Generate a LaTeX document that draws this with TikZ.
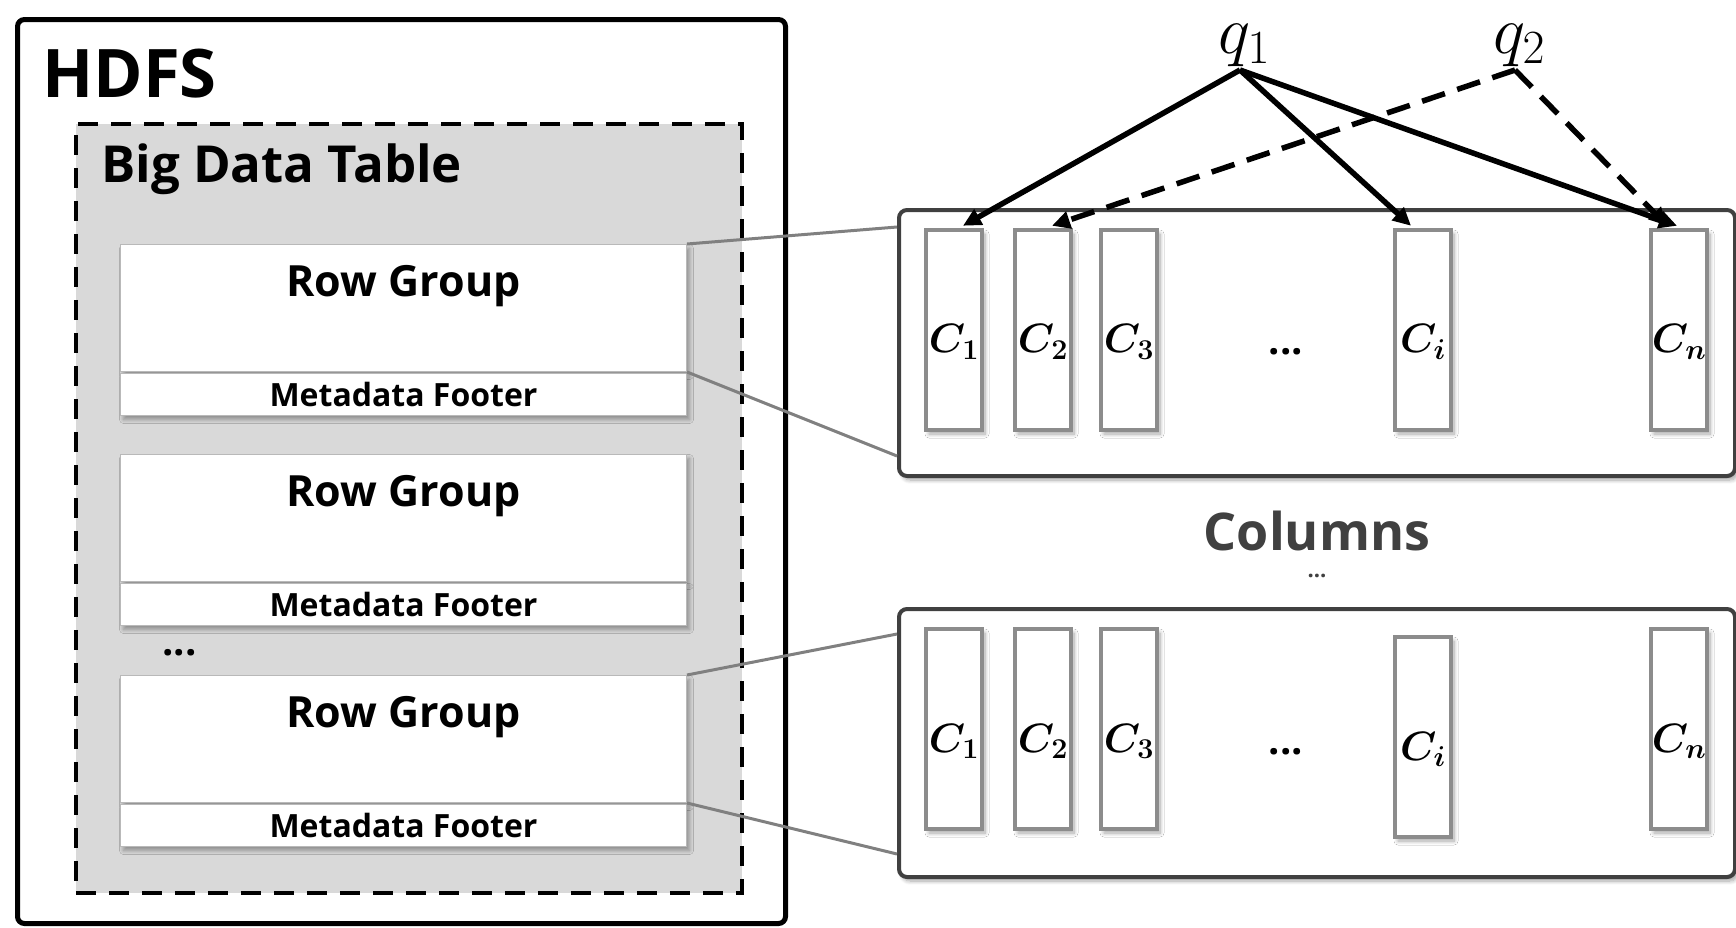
\RequirePackage{fix-cm}
\documentclass[tikz,border=0pt]{standalone}
\usepackage{fontspec}
\setmainfont{Open Sans}
\usetikzlibrary{arrows.meta,shadows.blur,calc}
\definecolor{tablegray}{RGB}{217,217,217}
\definecolor{colgray}{RGB}{140,140,140}
\definecolor{paneledge}{RGB}{64,64,64}
\definecolor{linkgray}{RGB}{128,128,128}
\begin{document}
\begin{tikzpicture}[x=1pt,y=-1pt,
  softshadow/.style={blur shadow={shadow xshift=3pt,shadow yshift=-4pt,shadow blur radius=4pt,shadow blur steps=8,shadow opacity=35}},
  hdfsbox/.style={draw=black,line width=5pt,rounded corners=7pt},
  tablebox/.style={draw=black,fill=tablegray,line width=3.5pt,dash pattern=on 20pt off 13pt},
  rowbox/.style={draw=gray!55,line width=1pt,fill=white,softshadow,inner sep=0pt,anchor=north west},
  panel/.style={draw=paneledge,line width=4pt,rounded corners=8pt,fill=white,softshadow,inner sep=0pt,anchor=north west,minimum width=836pt},
  colbox/.style={draw=colgray,line width=4.5pt,fill=white,softshadow,inner sep=0pt,minimum width=56pt,minimum height=200pt},
  clabel/.style={font=\fontsize{41}{41}\selectfont\boldmath,inner sep=0pt},
  rglabel/.style={font=\fontsize{43}{43}\selectfont\bfseries,anchor=base,inner sep=0pt},
  ftlabel/.style={font=\fontsize{32}{32}\selectfont\bfseries,anchor=base,inner sep=0pt},
  link/.style={draw=linkgray,line width=3pt},
  query/.style={line width=5.5pt,-{Triangle[length=18pt,width=17pt]}},
  dquery/.style={query,dash pattern=on 24pt off 13pt},
  dots/.style={font=\fontsize{40}{40}\selectfont\bfseries,inner sep=0pt}
]
\useasboundingbox (0,0) rectangle (1736,927);

% HDFS container and the table inside it
\node[hdfsbox,anchor=north west,minimum width=768pt,minimum height=904pt,inner sep=0pt] (hdfs) at (15,17) {};
\node[anchor=base west,inner sep=0pt,font=\fontsize{67}{67}\selectfont\bfseries] (hdfstitle) at (42,97) {HDFS};
\node[tablebox,anchor=north west,minimum width=666pt,minimum height=769pt,inner sep=0pt] (table) at (74,122) {};
\node[anchor=base west,inner sep=0pt,font=\fontsize{51}{51}\selectfont\bfseries] (tabletitle) at (101,182) {Big Data Table};

% row groups with their footers
\foreach \i/\y in {1/244,2/454,3/675}{
  \node[rowbox,minimum width=566pt,minimum height=127pt] (rg\i) at (120,\y) {};
  \node[rowbox,minimum width=566pt,minimum height=42pt] (ft\i) at (120,\y+129) {};
  \node[rglabel] (rgt\i) at ($(rg\i.north)+(0,52)$) {Row Group};
  \node[ftlabel] (ftt\i) at ($(ft\i.south)+(0,-10)$) {Metadata Footer};
}
\node[dots,anchor=base west] (rgdots) at (162,655) {...};

% column panels
\node[panel,minimum height=266pt] (top) at (897,208) {};
\node[panel,minimum height=268pt] (bot) at (897,607) {};

\draw[link] (rg1.north east) -- ($(top.north west)+(0,19)$);
\draw[link] (rg1.south east) -- ($(top.south west)+(0,-22)$);
\draw[link] (rg3.north east) -- ($(bot.north west)+(0,27)$);
\draw[link] (rg3.south east) -- ($(bot.south west)+(0,-25)$);

% columns of the upper panel
\foreach \n/\x/\t in {1/954/{C_1},2/1043/{C_2},3/1129/{C_3},i/1423/{C_i},n/1679/{C_n}}{
  \node[colbox] (tc\n) at (\x,330) {};
  \node[clabel] (tl\n) at ($(tc\n.center)+(0,12)$) {$\t$};
}
\node[dots] (tdots) at (1286,352) {...};

% columns of the lower panel
\foreach \n/\x/\y/\t in {1/954/729/{C_1},2/1043/729/{C_2},3/1129/729/{C_3},i/1423/737/{C_i},n/1679/729/{C_n}}{
  \node[colbox] (bc\n) at (\x,\y) {};
  \node[clabel] (bl\n) at ($(bc\n.center)+(0,12)$) {$\t$};
}
\node[dots] (bdots) at (1286,752) {...};

\node[font=\fontsize{52}{52}\selectfont\bfseries,text=paneledge,anchor=base,inner sep=0pt] (columns) at (1317,550) {Columns};
\node[font=\fontsize{22}{22}\selectfont\bfseries,text=paneledge,inner sep=0pt] (cdots) at (1317,576) {...};

% queries
\node[font=\fontsize{68}{68}\selectfont,inner sep=0pt,anchor=base] (q1) at (1244,53) {$q_1$};
\node[font=\fontsize{68}{68}\selectfont,inner sep=0pt,anchor=base] (q2) at (1519,53) {$q_2$};
\coordinate (q1p) at (1240,70);
\coordinate (q2p) at (1515,70);

\draw[dquery] (q2p) -- ($(tc2.north)+(9,-2)$);
\draw[dquery] (q2p) -- ($(tcn.north)+(-12,-2)$);
\draw[query] (q1p) -- ($(tc1.north)+(9,-2)$);
\draw[query] (q1p) -- ($(tci.north)+(-12,-2)$);
\draw[query] (q1p) -- ($(tcn.north)+(-2,-2)$);
\end{tikzpicture}
\end{document}
